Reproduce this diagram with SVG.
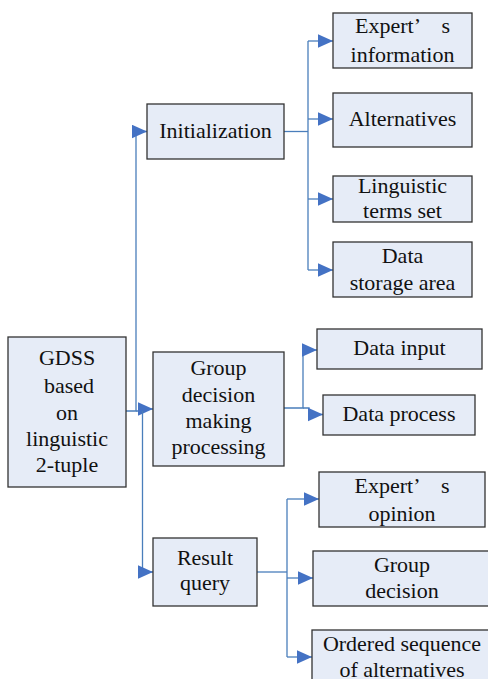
<svg xmlns="http://www.w3.org/2000/svg" width="488" height="679" viewBox="0 0 488 679">
  <style>
    .box { fill: #e6ecf7; stroke: #333333; stroke-width: 1.3; }
    .lbl { font-family: "Liberation Serif", serif; font-size: 22px; fill: #111111; text-anchor: middle; }
    .wire { fill: none; stroke: #4a7ebb; stroke-width: 1.3; }
    .arr { marker-end: url(#head); }
  </style>
  <defs>
    <marker id="head" markerUnits="userSpaceOnUse" markerWidth="16" markerHeight="14" refX="15" refY="6.75" orient="auto">
      <path d="M0,0 L15,6.75 L0,13.5 Z" fill="#4472c4"/>
    </marker>
  </defs>

  <rect width="488" height="679" fill="#ffffff"/>

  <!-- connectors -->
  <g id="connectors">
    <!-- root to the three stages -->
    <path class="wire arr" d="M126 411 H136 V131.5 H147"/>
    <path class="wire arr" d="M136 411 H140 V409 H153"/>
    <path class="wire arr" d="M142.5 411 V572 H153"/>
    <!-- Initialization branches -->
    <path class="wire" d="M284 131.5 H308"/>
    <path class="wire" d="M308 41 V270"/>
    <path class="wire arr" d="M308 41 H333"/>
    <path class="wire arr" d="M308 119 H333"/>
    <path class="wire arr" d="M308 199 H333"/>
    <path class="wire arr" d="M308 270 H333"/>
    <!-- Group decision making branches -->
    <path class="wire" d="M284 408 H303 V350"/>
    <path class="wire arr" d="M303 350 H317"/>
    <path class="wire arr" d="M303 408 H309 V414.5 H323"/>
    <!-- Result query branches -->
    <path class="wire" d="M257 572 H287"/>
    <path class="wire" d="M287 499 V657"/>
    <path class="wire arr" d="M287 499 H319"/>
    <path class="wire arr" d="M287 578 H313"/>
    <path class="wire arr" d="M287 657 H312"/>
  </g>

  <!-- root node -->
  <g id="gdss">
    <rect class="box" x="8" y="337" width="118" height="150"/>
    <text class="lbl" x="67" y="365">GDSS</text>
    <text class="lbl" x="69" y="393">based</text>
    <text class="lbl" x="67" y="420">on</text>
    <text class="lbl" x="67" y="446">linguistic</text>
    <text class="lbl" x="67" y="472">2-tuple</text>
  </g>

  <!-- stage nodes -->
  <g id="initialization">
    <rect class="box" x="147" y="104" width="137" height="55"/>
    <text class="lbl" x="215.5" y="138">Initialization</text>
  </g>
  <g id="group-decision-making">
    <rect class="box" x="153" y="352" width="131" height="114"/>
    <text class="lbl" x="218.5" y="375">Group</text>
    <text class="lbl" x="218.5" y="402">decision</text>
    <text class="lbl" x="218.5" y="428">making</text>
    <text class="lbl" x="218.5" y="454">processing</text>
  </g>
  <g id="result-query">
    <rect class="box" x="153" y="538" width="104" height="68"/>
    <text class="lbl" x="205" y="565">Result</text>
    <text class="lbl" x="205" y="590">query</text>
  </g>

  <!-- Initialization children -->
  <g id="experts-information">
    <rect class="box" x="333" y="13" width="139" height="55"/>
    <text class="lbl" x="402.5" y="33" xml:space="preserve">Expert’    s</text>
    <text class="lbl" x="402.5" y="62">information</text>
  </g>
  <g id="alternatives">
    <rect class="box" x="333" y="93" width="139" height="54"/>
    <text class="lbl" x="402.5" y="126">Alternatives</text>
  </g>
  <g id="linguistic-terms-set">
    <rect class="box" x="333" y="176" width="139" height="46"/>
    <text class="lbl" x="402.5" y="193">Linguistic</text>
    <text class="lbl" x="402.5" y="218">terms set</text>
  </g>
  <g id="data-storage-area">
    <rect class="box" x="333" y="242" width="139" height="55"/>
    <text class="lbl" x="402.5" y="263">Data</text>
    <text class="lbl" x="402.5" y="290">storage area</text>
  </g>

  <!-- Group decision making children -->
  <g id="data-input">
    <rect class="box" x="317" y="329" width="165" height="40"/>
    <text class="lbl" x="399.5" y="355">Data input</text>
  </g>
  <g id="data-process">
    <rect class="box" x="323" y="395" width="152" height="40"/>
    <text class="lbl" x="399" y="421">Data process</text>
  </g>

  <!-- Result query children -->
  <g id="experts-opinion">
    <rect class="box" x="319" y="472" width="166" height="55"/>
    <text class="lbl" x="402" y="493" xml:space="preserve">Expert’    s</text>
    <text class="lbl" x="402" y="521">opinion</text>
  </g>
  <g id="group-decision">
    <rect class="box" x="313" y="551" width="185" height="55"/>
    <text class="lbl" x="402" y="572">Group</text>
    <text class="lbl" x="402" y="598">decision</text>
  </g>
  <g id="ordered-sequence">
    <rect class="box" x="312" y="630" width="186" height="60"/>
    <text class="lbl" x="402" y="651">Ordered sequence</text>
    <text class="lbl" x="402" y="677">of alternatives</text>
  </g>
</svg>
